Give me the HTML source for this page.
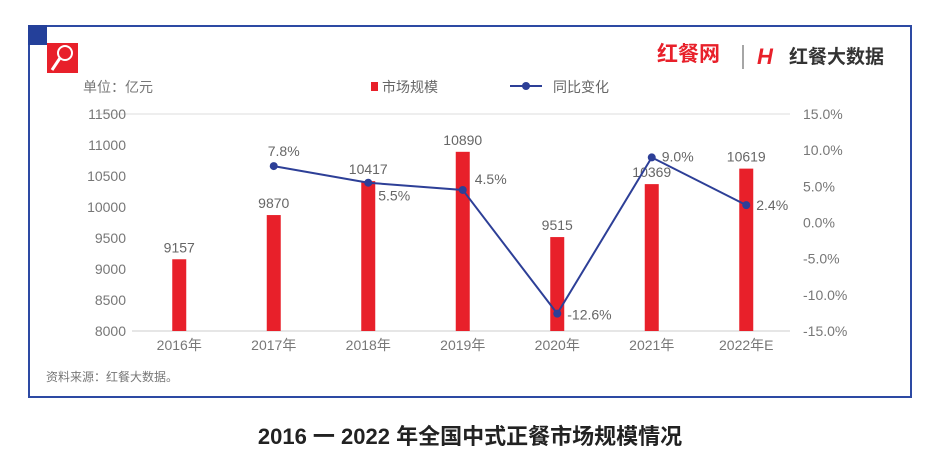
<!DOCTYPE html>
<html><head><meta charset="utf-8">
<style>
body{margin:0;width:945px;height:469px;background:#fff;overflow:hidden;font-family:"Liberation Sans","Noto Sans CJK SC",sans-serif;}
svg text{font-family:"Liberation Sans","Noto Sans CJK SC",sans-serif;}
</style></head><body>
<svg width="945" height="469">
<rect x="29" y="26" width="882" height="371" fill="none" stroke="#2d4aa3" stroke-width="2"/>
<rect x="28" y="25" width="19" height="20" fill="#24409a"/>
<g>
<rect x="47" y="43" width="31" height="30" fill="#e8202a"/>
<circle cx="65" cy="53" r="7" fill="none" stroke="#fff" stroke-width="2"/>
<line x1="60" y1="58" x2="52" y2="70" stroke="#fff" stroke-width="3"/>
</g>
<text x="657" y="61" font-size="21" fill="#e8202a" font-weight="bold">红餐网</text>
<line x1="743" y1="45" x2="743" y2="69" stroke="#888" stroke-width="1.5"/>
<text x="757" y="64" font-size="22" fill="#e8202a" font-weight="bold" font-style="italic">H</text>
<text x="789" y="63" font-size="19" fill="#333" font-weight="bold">红餐大数据</text>
<text x="83" y="92" font-size="14" fill="#777">单位：亿元</text>
<g>
<rect x="371" y="82" width="7" height="9" fill="#e8202a"/>
<text x="382" y="92" font-size="14" fill="#666">市场规模</text>
<line x1="510" y1="86" x2="542" y2="86" stroke="#2d3f97" stroke-width="2"/>
<circle cx="526" cy="86" r="4" fill="#2d3f97"/>
<text x="553" y="92" font-size="14" fill="#666">同比变化</text>
</g>
<g id="plot"></g>
<text x="46" y="381" font-size="12" fill="#777">资料来源：红餐大数据。</text>
<text x="470" y="444" font-size="22" fill="#222" font-weight="bold" text-anchor="middle">2016 一 2022 年全国中式正餐市场规模情况</text>
</svg>
<script>
const categories=["2016年","2017年","2018年","2019年","2020年","2021年","2022年E"];
const sizeValues=[9157,9870,10417,10890,9515,10369,10619];
const yoyCats=["2017年","2018年","2019年","2020年","2021年","2022年E"];
const yoyValues=[7.8,5.5,4.5,-12.6,9.0,2.4];
const leftTicks=[8000,8500,9000,9500,10000,10500,11000,11500];
const rightTicks=[-15,-10,-5,0,5,10,15];
const NS="http://www.w3.org/2000/svg";
const plotG=document.getElementById("plot");
const x0=132,step=94.5,yTop=114,yBot=331;
const xPos=i=>x0+step*(i+0.5);
const yL=v=>yBot-(v-8000)/3500*(yBot-yTop);
const yR=v=>yBot-(v+15)/30*(yBot-yTop);
function mk(t,a,txt){const e=document.createElementNS(NS,t);for(const k in a)e.setAttribute(k,a[k]);if(txt!==undefined)e.textContent=txt;plotG.appendChild(e);return e;}
let el=mk("line",{x1:96,x2:790,y1:yTop,y2:yTop,stroke:"#ddd"});


el=mk("line",{x1:132,x2:790,y1:yBot,y2:yBot,stroke:"#ccc"});


leftTicks.forEach(v=>{const t=mk("text",{x:126,y:yL(v)+5,"font-size":14,fill:"#777","text-anchor":"end"},String(v));

});
rightTicks.forEach(v=>{const t=mk("text",{x:803,y:yR(v)+5,"font-size":14,fill:"#777"},v.toFixed(1)+"%");

});
categories.forEach((c,i)=>{const t=mk("text",{x:xPos(i),y:350,"font-size":14,fill:"#777","text-anchor":"middle"},c);

});
sizeValues.forEach((v,i)=>{const r=mk("rect",{x:xPos(i)-7,y:yL(v),width:14,height:yBot-yL(v),fill:"#e8202a"});


const t=mk("text",{x:xPos(i),y:yL(v)-7,"font-size":14,fill:"#666","text-anchor":"middle"},String(v));

});
const pts=yoyValues.map((v,j)=>[xPos(categories.indexOf(yoyCats[j])),yR(v)]);
const pl=mk("polyline",{points:pts.map(p=>p.join(",")).join(" "),fill:"none",stroke:"#2d3f97","stroke-width":2});


const offs=[[-6,-10],[10,18],[12,-6],[10,6],[10,4],[10,5]];
pts.forEach((p,j)=>{const c=mk("circle",{cx:p[0],cy:p[1],r:4,fill:"#2d3f97"});


const t=mk("text",{x:p[0]+offs[j][0],y:p[1]+offs[j][1],"font-size":14,fill:"#666"},yoyValues[j].toFixed(1)+"%");

});
</script>
</body></html>
